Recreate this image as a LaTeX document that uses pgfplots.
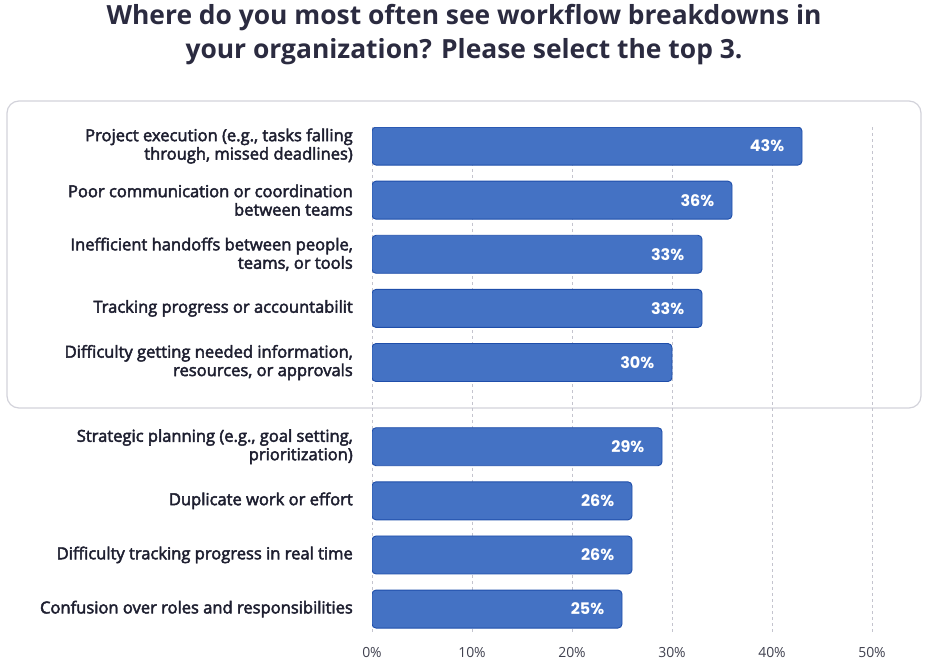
\documentclass[border=0pt]{standalone}
\usepackage{fontspec}
\setmainfont{Open Sans}
\newfontfamily\valfont{Poppins}
\usepackage{pgfplots}
\usepackage{pgfplotstable}
\pgfplotsset{compat=1.18}
\newcommand\medw{\special{pdf:literal direct 0.45 w 2 Tr}}
\newcommand\medoff{\special{pdf:literal direct 0 Tr}}

\definecolor{barblue}{HTML}{4472C4}
\definecolor{baredge}{HTML}{1F4EAA}
\definecolor{txt}{HTML}{1E1F30}
\definecolor{titlec}{HTML}{2B2B40}
\definecolor{gridc}{HTML}{C4C4CE}
\definecolor{boxc}{HTML}{D2D2DA}

\pgfplotstableread{
y v
0 43
1 36
2 33
3 33
4 30
5.556 29
6.556 26
7.556 26
8.556 25
}\datatab

\begin{document}
\begin{tikzpicture}
\path (0bp,0bp) rectangle (928bp,-662bp);
\draw[boxc, line width=1.2bp, rounded corners=12bp] (7bp,-101bp) rectangle (921bp,-408bp);
\node[font=\bfseries\fontsize{26.5}{34}\selectfont, text=titlec, align=center] at (464bp,-35bp)
  {Where do you most often see workflow breakdowns in\\your organization? Please select the top 3.};
\begin{axis}[
  at={(372bp,-632bp)}, anchor=south west, scale only axis,
  width=500bp, height=505bp,
  xbar, bar width=38bp,
  xmin=0, xmax=50, ymin=-0.352, ymax=8.98, y dir=reverse,
  axis line style={draw=none},
  major tick length=0pt,
  xmajorgrids, grid style={dashed, gridc, line width=0.8bp},
  xtick={0,10,20,30,40,50},
  xticklabels={0\%,10\%,20\%,30\%,40\%,50\%},
  xticklabel style={font=\fontsize{14}{16}\selectfont, text=txt!85, yshift=-12bp},
  ytick={0,1,2,3,4,5.556,6.556,7.556,8.556},
  yticklabels={
    {Project execution (e.g., tasks falling\\through, missed deadlines)},
    {Poor communication or coordination\\between teams},
    {Inefficient handoffs between people,\\teams, or tools},
    {Tracking progress or accountabilit},
    {Difficulty getting needed information,\\resources, or approvals},
    {Strategic planning (e.g., goal setting,\\prioritization)},
    {Duplicate work or effort},
    {Difficulty tracking progress in real time},
    {Confusion over roles and responsibilities}},
  yticklabel style={align=right, anchor=east, inner sep=0pt, xshift=-19bp,
    font=\fontsize{16.6}{18.5}\selectfont\medw, text=txt,
    execute at end node={\medoff}},
  /pgf/number format/assume math mode=true,
  nodes near coords={\pgfmathprintnumber{\pgfplotspointmeta}\%},
  every node near coord/.append style={anchor=east, xshift=-14bp,
    font=\valfont\bfseries\fontsize{16}{18}\selectfont, text=white},
]
\addplot[fill=barblue, draw=baredge, line width=0.9bp, rounded corners=4bp]
  table[x=v, y=y] {\datatab};
\end{axis}
\end{tikzpicture}
\end{document}
